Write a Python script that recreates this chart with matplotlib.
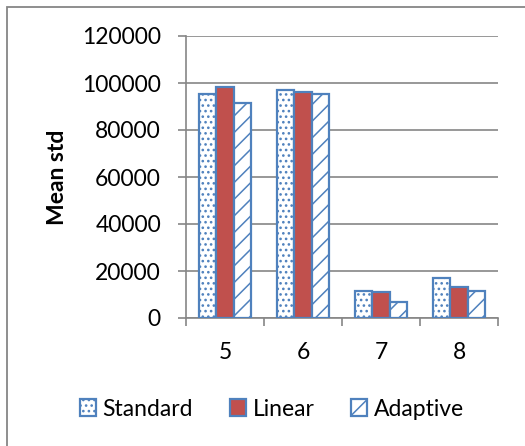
import matplotlib
matplotlib.use("Agg")
import matplotlib.pyplot as plt
from matplotlib.patches import Rectangle, Patch
import numpy as np

categories = ["5", "6", "7", "8"]
series_names = ["Standard", "Linear", "Adaptive"]
standard = [95500, 97200, 11700, 17200]
linear = [98100, 96300, 11000, 13100]
adaptive = [91700, 95300, 6800, 11300]
yticks = [0, 20000, 40000, 60000, 80000, 100000, 120000]

plt.rcParams['font.family'] = ['Lato', 'DejaVu Sans']
plt.rcParams['hatch.linewidth'] = 1.1

blue = '#4F81BD'
red = '#C0504D'
grid_c = '#868686'
fs = 16.5

fig = plt.figure(figsize=(5.25, 4.46), dpi=100)
ax = fig.add_axes([186 / 525, 1 - 318 / 446, 312 / 525, 282 / 446])

x = np.arange(len(categories))
w = 0.225
styles = [dict(facecolor='white', hatch='...'),
          dict(facecolor=red, hatch=None),
          dict(facecolor='white', hatch='//')]
data = [standard, linear, adaptive]
for i, (vals, st) in enumerate(zip(data, styles)):
    ax.bar(x + (i - 1) * w, vals, width=w, edgecolor=blue, linewidth=1.6,
           label=series_names[i], zorder=3, **st)

ax.set_xlim(-0.5, len(categories) - 0.5)
ax.set_ylim(0, 120000)
ax.set_yticks(yticks)
ax.set_yticklabels([str(v) for v in yticks], fontsize=fs)
ax.yaxis.grid(True, color=grid_c, linewidth=1.2, zorder=0)
ax.set_axisbelow(True)

ax.set_xticks(x)
ax.set_xticklabels(categories, fontsize=fs)
ax.set_xticks(np.arange(-0.5, len(categories), 1.0), minor=True)
ax.tick_params(axis='x', which='major', length=0, pad=17)
ax.tick_params(axis='x', which='minor', length=6, color=grid_c, width=1.2)
ax.tick_params(axis='y', length=6, color=grid_c, width=1.2, pad=12)

for s in ['top', 'right']:
    ax.spines[s].set_visible(False)
for s in ['left', 'bottom']:
    ax.spines[s].set_color(grid_c)
    ax.spines[s].set_linewidth(1.2)

ax.set_ylabel("Mean std", fontsize=fs, fontweight='bold', va='center')
ax.yaxis.set_label_coords((57 - 186) / 312, 0.5)

handles = [Patch(facecolor='white', edgecolor=blue, hatch='...', linewidth=1.6),
           Patch(facecolor=red, edgecolor=blue, linewidth=1.6),
           Patch(facecolor='white', edgecolor=blue, hatch='//', linewidth=1.6)]
fig.legend(handles, series_names, loc='center', bbox_to_anchor=(272 / 525, 1 - 409 / 446),
           ncol=3, frameon=False, fontsize=fs, handlelength=0.7,
           handleheight=0.7, handletextpad=0.3, columnspacing=1.6,
           borderpad=0, borderaxespad=0)

fig.patches.append(Rectangle((7 / 525, -0.2), 1.2, 1.2 - 7 / 446, transform=fig.transFigure,
                             fill=False, edgecolor=grid_c, linewidth=1.3))

fig.savefig("out.png", dpi=100)
